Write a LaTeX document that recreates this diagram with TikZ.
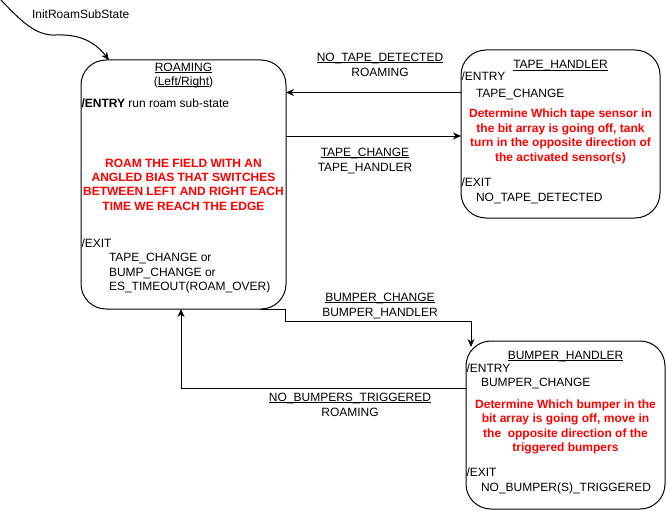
\documentclass[tikz,border=0pt]{standalone}
\usepackage{fontspec}
\setmainfont{Liberation Sans}
\usetikzlibrary{arrows.meta,calc}
\definecolor{redtxt}{HTML}{FF0000}
\newcommand\ulx[1]{\underline{\smash{#1}}}
\begin{document}
\begin{tikzpicture}[x=1pt,y=-1pt,
  every node/.style={inner sep=0pt, outer sep=0pt, font=\fontsize{12}{14.4}\selectfont},
  state/.style={draw, line width=1pt, rounded corners=25pt},
  txt/.style={anchor=base west},
  ctr/.style={anchor=base},
  redl/.style={anchor=base, text=redtxt, font=\fontsize{12}{14.4}\selectfont\bfseries},
  arr/.style={line width=1pt, -{Stealth[length=8pt,width=7pt,inset=2.5pt]}}
]
\useasboundingbox (0,0) rectangle (666,511);

% states
\node[state, minimum width=205, minimum height=249] (roam) at (183.5,184.5) {};
\node[state, minimum width=199, minimum height=168] (tape) at (560.5,134) {};
\node[state, minimum width=199, minimum height=168] (bump) at (565.5,425) {};

% ROAMING contents
\node[ctr] (r1) at (183.5,71) {\ulx{ROAMING}};
\node[ctr] (r2) at (183.5,85) {(\ulx{Left/Right})};
\node[txt] (r3) at (81.5,107) {\textbf{/ENTRY} run roam sub-state};
\node[redl] (r4) at (183.5,167) {ROAM THE FIELD WITH AN};
\node[redl] (r5) at (183.5,181) {ANGLED BIAS THAT SWITCHES};
\node[redl] (r6) at (183.5,195.5) {BETWEEN LEFT AND RIGHT EACH};
\node[redl] (r7) at (183.5,210) {TIME WE REACH THE EDGE};
\node[txt] (r8) at (81.5,247) {/EXIT};
\node[txt] (r9) at (109,261) {TAPE\_CHANGE or};
\node[txt] (r10) at (109,276) {BUMP\_CHANGE or};
\node[txt] (r11) at (109,290) {ES\_TIMEOUT(ROAM\_OVER)};

% TAPE_HANDLER contents
\node[ctr] (t1) at (560.5,69) {\ulx{TAPE\_HANDLER}};
\node[txt] (t2) at (461.5,81) {/ENTRY};
\node[txt] (t3) at (476,97) {TAPE\_CHANGE};
\node[redl] (t4) at (560.5,117) {Determine Which tape sensor in};
\node[redl] (t5) at (560.5,132) {the bit array is going off, tank};
\node[redl] (t6) at (560.5,146) {turn in the opposite direction of};
\node[redl] (t7) at (560.5,161) {the activated sensor(s)};
\node[txt] (t8) at (461.5,186) {/EXIT};
\node[txt] (t9) at (476,201) {NO\_TAPE\_DETECTED};

% BUMPER_HANDLER contents
\node[ctr] (b1) at (565.5,359) {\ulx{BUMPER\_HANDLER}};
\node[txt] (b2) at (466.5,372) {/ENTRY};
\node[txt] (b3) at (481,386) {BUMPER\_CHANGE};
\node[redl] (b4) at (565.5,408) {Determine Which bumper in the};
\node[redl] (b5) at (565.5,422) {bit array is going off, move in};
\node[redl] (b6) at (565.5,437) {the\ \ opposite direction of the};
\node[redl] (b7) at (565.5,451) {triggered bumpers};
\node[txt] (b8) at (466.5,476) {/EXIT};
\node[txt] (b9) at (481,491) {NO\_BUMPER(S)\_TRIGGERED};

% init transition
\coordinate (init) at (1,0);
\node[txt] (initlbl) at (32,19) {InitRoamSubState};
\draw[arr] (init) .. controls (22,22) and (36,36) .. (56,35)
  .. controls (80,34) and (95,42) .. ($(roam.north west)+(28,0)$);

% ROAMING -> TAPE_HANDLER
\draw[arr] (roam.east |- 0,136) -- (tape.west |- 0,136);
\node[ctr] (e1a) at (365,156) {\ulx{TAPE\_CHANGE}};
\node[ctr] (e1b) at (365,171) {TAPE\_HANDLER};

% TAPE_HANDLER -> ROAMING
\draw[arr] (tape.west |- 0,92.5) -- (roam.east |- 0,92.5);
\node[ctr] (e2a) at (380,61) {\ulx{NO\_TAPE\_DETECTED}};
\node[ctr] (e2b) at (380,76) {ROAMING};

% ROAMING -> BUMPER_HANDLER
\draw[arr] ($(roam.south east)+(-26,0)$) -- ++(25,0) -- ++(0,12) -| ($(bump.north west)+(5,6)$);
\node[ctr] (e3a) at (380,301) {\ulx{BUMPER\_CHANGE}};
\node[ctr] (e3b) at (380,316) {BUMPER\_HANDLER};

% BUMPER_HANDLER -> ROAMING
\draw[arr] (bump.west |- 0,388) -| (roam.south -| 181,0);
\node[ctr] (e4a) at (350,401) {\ulx{NO\_BUMPERS\_TRIGGERED}};
\node[ctr] (e4b) at (350,416) {ROAMING};
\end{tikzpicture}
\end{document}
